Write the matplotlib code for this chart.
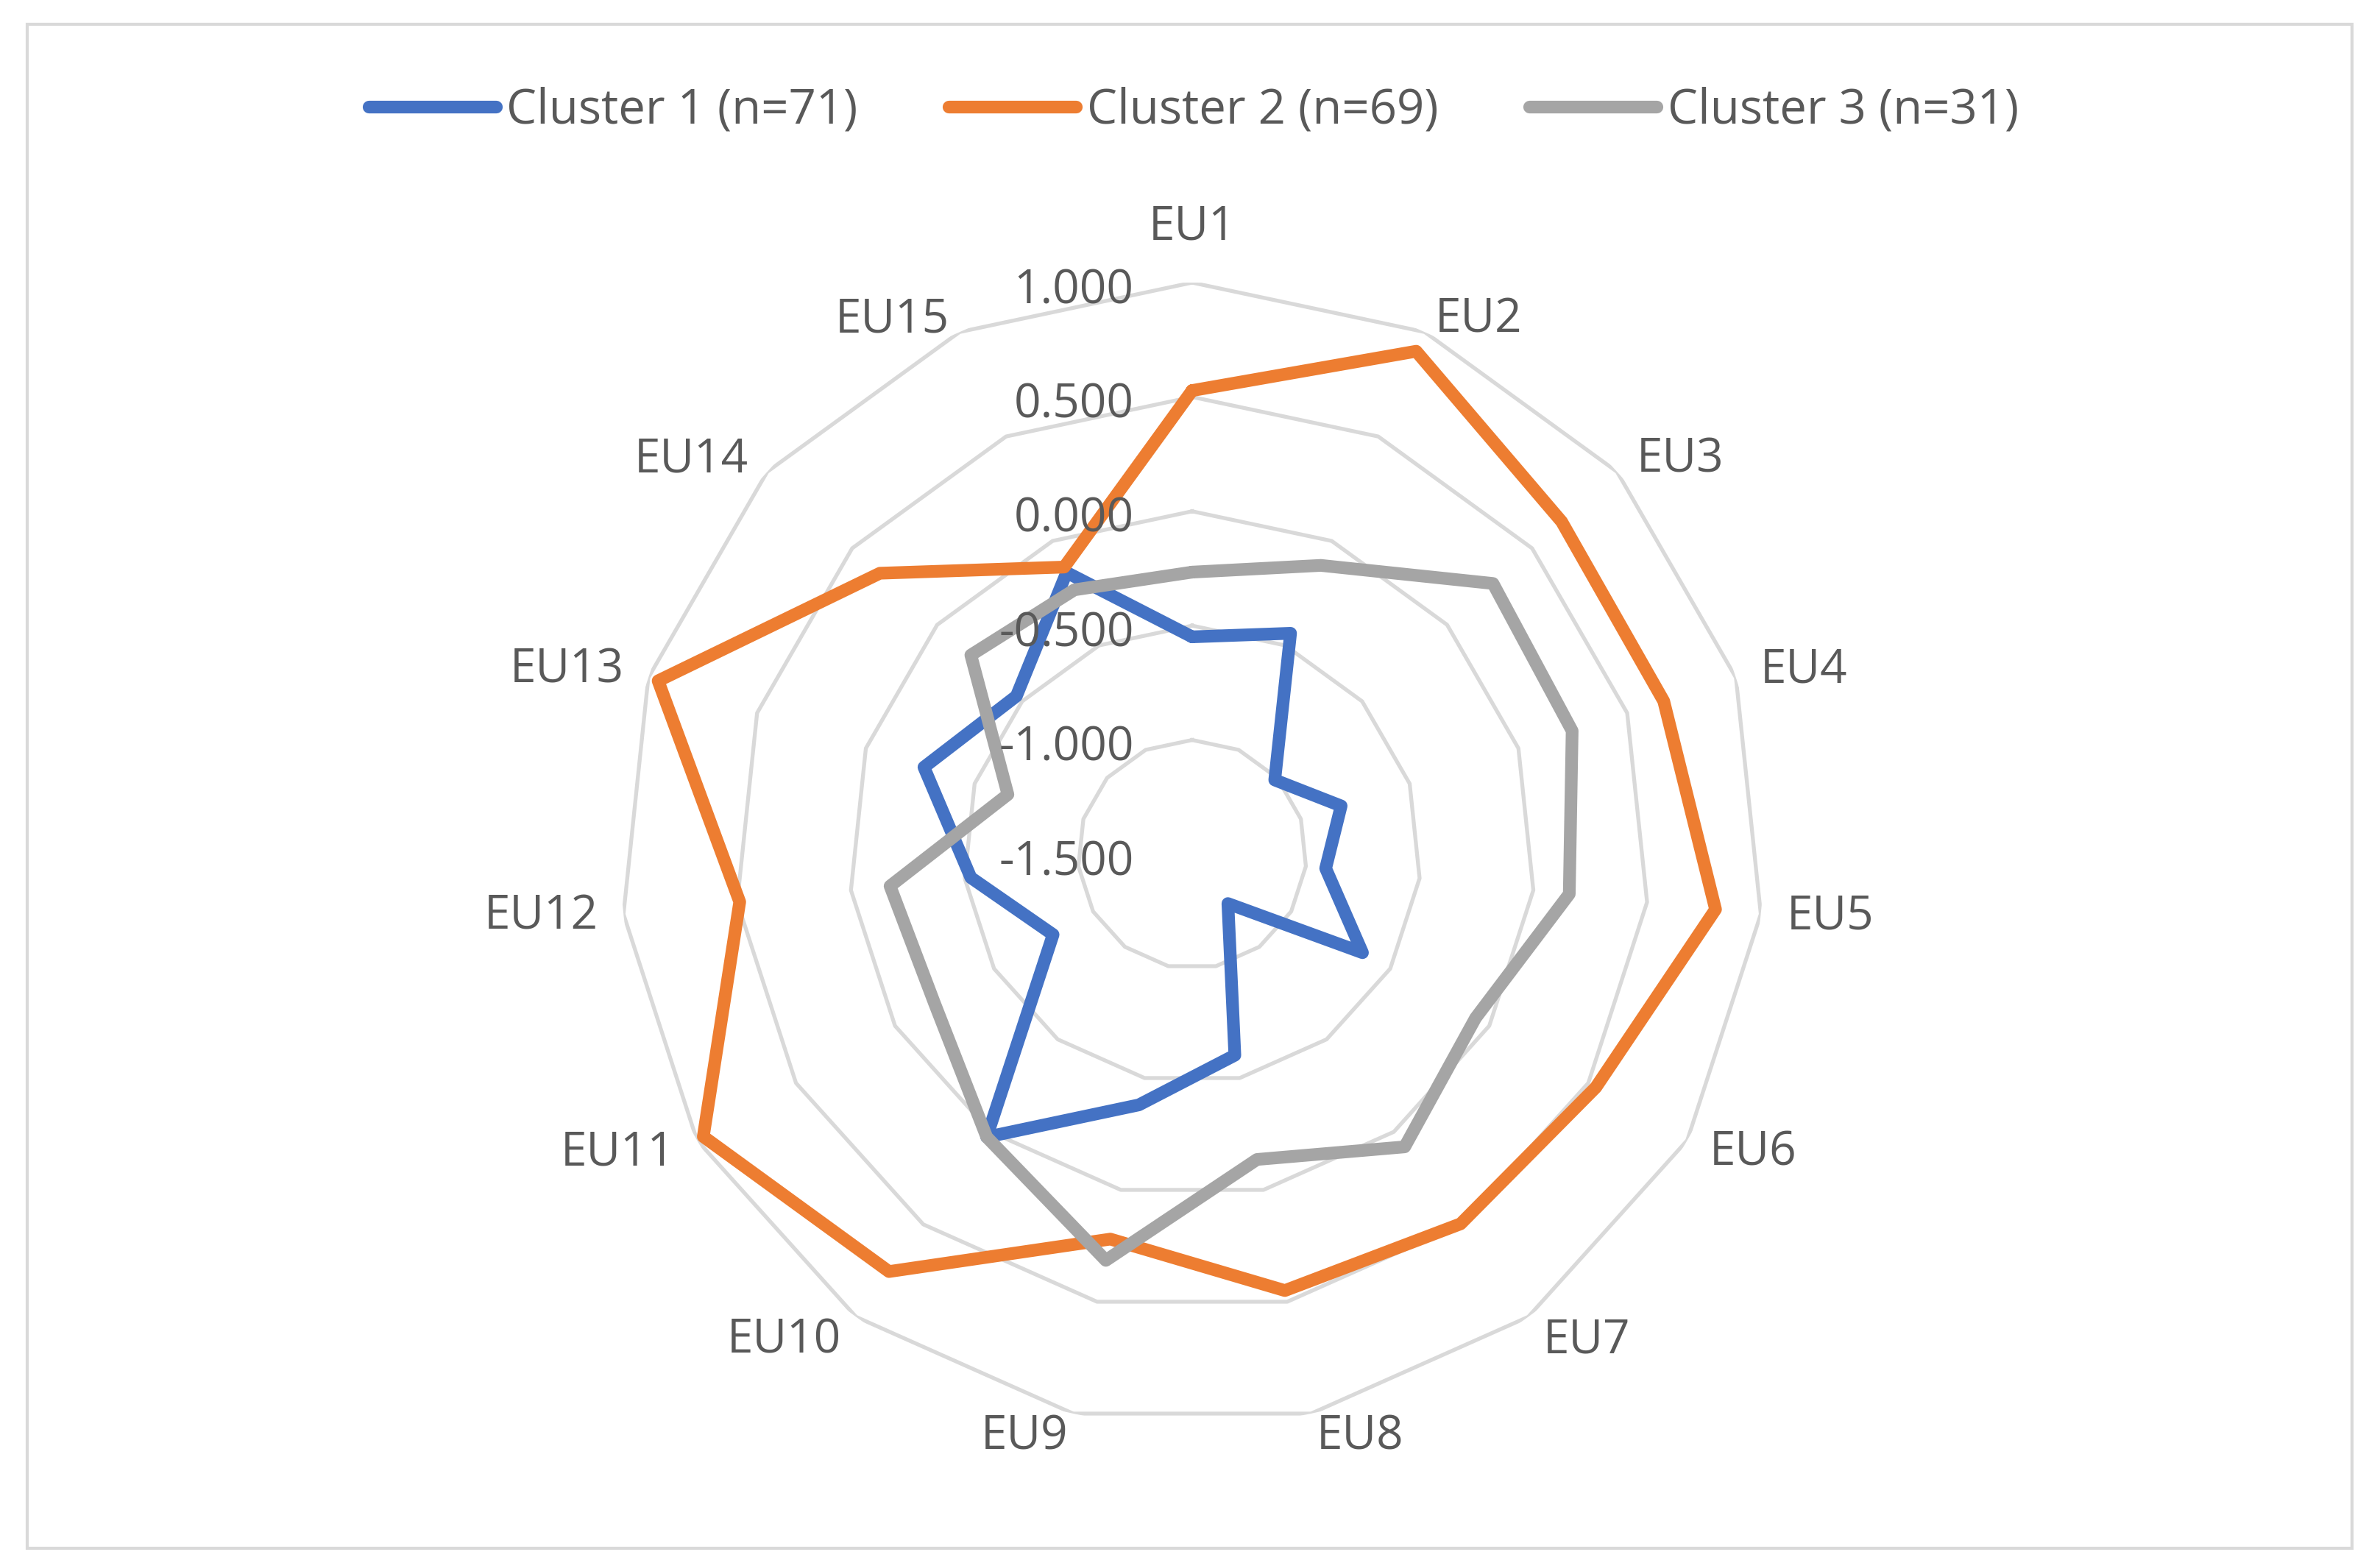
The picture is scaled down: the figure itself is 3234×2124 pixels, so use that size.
import numpy as np
import matplotlib.pyplot as plt
from matplotlib.patches import Rectangle

categories = ["EU1", "EU2", "EU3", "EU4", "EU5", "EU6", "EU7", "EU8",
              "EU9", "EU10", "EU11", "EU12", "EU13", "EU14", "EU15"]
cluster1 = [-0.549, -0.442, -1.014, -0.815, -0.913, -0.640, -1.234, -0.602,
            -0.380, 0.028, -0.798, -0.527, -0.267, -0.466, -0.151]
cluster2 = [0.528, 0.908, 0.674, 0.668, 0.801, 0.538, 0.497, 0.450,
            0.220, 0.755, 0.968, 0.489, 0.955, 0.337, -0.125]
cluster3 = [-0.266, -0.117, 0.270, 0.247, 0.158, -0.069, 0.081, -0.136,
            0.315, 0.028, -0.199, -0.172, -0.653, -0.198, -0.234]
series_names = ["Cluster 1 (n=71)", "Cluster 2 (n=69)", "Cluster 3 (n=31)"]
colors = ["#4472C4", "#ED7D31", "#A5A5A5"]
ticks = [-1.5, -1.0, -0.5, 0.0, 0.5, 1.0]

plt.rcParams['font.family'] = ['Open Sans', 'DejaVu Sans']
txt = "#595959"
fs = 23

fig = plt.figure(figsize=(16.17, 10.62), dpi=200)
ax = fig.add_axes([0.2606, 0.0876, 0.4806, 0.7316], projection='polar')
ax.set_theta_zero_location('N')
ax.set_theta_direction(-1)
ax.set_ylim(ticks[0], ticks[-1])

n = len(categories)
theta = np.arange(n) * 2 * np.pi / n
theta_c = np.append(theta, theta[0])

# polygon grid instead of circles
ax.grid(False)
ax.spines['polar'].set_visible(False)
ax.set_xticks([])
ax.set_yticks([])
for t in ticks[1:]:
    ax.plot(theta_c, [t] * (n + 1), color="#D9D9D9", lw=1.9, zorder=1)

for vals, name, c in zip([cluster1, cluster2, cluster3], series_names, colors):
    ax.plot(theta_c, vals + vals[:1], color=c, lw=6.2, label=name,
            solid_joinstyle='round', solid_capstyle='round', zorder=3)

# radial value labels along EU1
for t in ticks:
    ax.annotate(f"{t:.3f}", xy=(0, t), xytext=(-28.5, -4), textcoords='offset points',
                ha='right', va='center', fontsize=fs, color=txt, zorder=4)

# category labels, excel-like placement around the outer ring
gap = 12.6
for th, lab in zip(theta, categories):
    s, c = np.sin(th), np.cos(th)
    ha = 'left' if s > 0.05 else ('right' if s < -0.05 else 'center')
    if c > 0.6:
        va, dy = 'baseline', (21 if ha == 'center' else 0)
    elif c < -0.6:
        va, dy = 'top', 0
    else:
        va, dy = 'center', gap * c
    ax.annotate(lab, xy=(th, ticks[-1]), xytext=(gap * s, dy), textcoords='offset points',
                ha=ha, va=va, fontsize=fs, color=txt, annotation_clip=False)

fig.legend(loc='center', bbox_to_anchor=(0.5015, 0.929), ncol=3, frameon=False,
           fontsize=23.5, handlelength=2.65, handletextpad=0.22, columnspacing=1.9,
           labelcolor=txt)

fig.patches.append(Rectangle((0.0114, 0.0094), 0.977, 0.975, transform=fig.transFigure,
                             fill=False, edgecolor="#D9D9D9", lw=1.5))

fig.savefig("out.png", dpi=200, facecolor='white')
